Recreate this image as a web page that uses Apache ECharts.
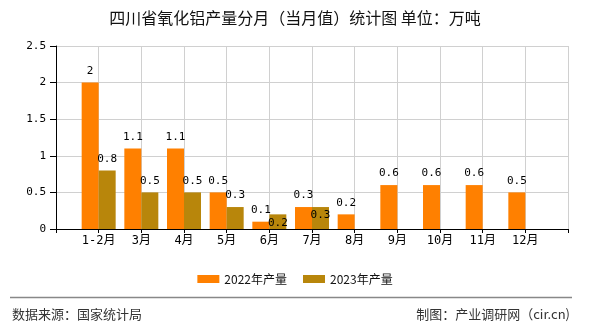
<!DOCTYPE html>
<html>
<head>
<meta charset="utf-8">
<script src="https://cdn.jsdelivr.net/npm/echarts@6/dist/echarts.min.js"></script>
<style>html,body{margin:0;padding:0;background:#fff}#c{width:590px;height:330px}</style>
</head>
<body>
<div id="c"></div>
<script>
var titleText = '四川省氧化铝产量分月（当月值）统计图 单位：万吨';
var categories = ['', '1-2月', '3月', '4月', '5月', '6月', '7月', '8月', '9月', '10月', '11月', '12月', ''];
var values2022 = [null, 2, 1.1, 1.1, 0.5, 0.1, 0.3, 0.2, 0.6, 0.6, 0.6, 0.5, null];
var values2023 = [null, 0.8, 0.5, 0.5, 0.3, 0.2, 0.3, null, null, null, null, null, null];
var seriesNames = ['2022年产量', '2023年产量'];
var yTicks = [0, 0.5, 1, 1.5, 2, 2.5];
var sourceText = '数据来源：国家统计局';
var creditText = '制图：产业调研网（cir.cn)';
// indices whose label sits inside the bar top (as in the reference)
var insideLabelIdx2023 = [5, 6];

var mono = '"DejaVu Sans Mono", "Noto Sans CJK SC", monospace';
var cjk = '"Noto Sans CJK SC", sans-serif';

function build(vals, insideIdx) {
  return vals.map(function (v, i) {
    if (v === null) return null;
    if (insideIdx && insideIdx.indexOf(i) >= 0) {
      return { value: v, label: { position: 'insideTop', distance: 3 } };
    }
    return v;
  });
}

var chart = echarts.init(document.getElementById('c'));
chart.setOption({
  animation: false,
  backgroundColor: '#fff',
  title: {
    text: titleText, left: 'center', top: 5,
    textStyle: { fontFamily: cjk, fontSize: 16, fontWeight: 'normal', color: '#111' }
  },
  legend: {
    data: seriesNames, left: 'center', top: 268,
    itemWidth: 22, itemHeight: 8, itemGap: 16,
    icon: 'rect',
    textStyle: { fontFamily: cjk, fontSize: 12, color: '#111' }
  },
  grid: { left: 56, right: 22, top: 46, bottom: 101, containLabel: false },
  xAxis: {
    type: 'category', data: categories, boundaryGap: false,
    axisLine: { lineStyle: { color: '#000', width: 1 } },
    axisTick: { show: true, length: 4, interval: 0, lineStyle: { color: '#000' } },
    axisLabel: { interval: 0, margin: 6, color: '#000', fontFamily: mono, fontSize: 12 },
    splitLine: { show: true, interval: 0, lineStyle: { color: '#d0d0d0', width: 1 } }
  },
  yAxis: {
    type: 'value', min: yTicks[0], max: yTicks[yTicks.length - 1], interval: 0.5,
    axisLine: { show: true, lineStyle: { color: '#000', width: 1 } },
    axisTick: { show: true, length: 6, lineStyle: { color: '#000' } },
    axisLabel: { margin: 10, color: '#000', fontFamily: mono, fontSize: 11 },
    splitLine: { show: true, lineStyle: { color: '#d0d0d0', width: 1 } }
  },
  series: [
    {
      name: seriesNames[0], type: 'bar', data: build(values2022),
      barWidth: 17, barGap: '0%',
      itemStyle: { color: '#FF8000' },
      label: { show: true, position: 'top', distance: 6, color: '#000', fontFamily: mono, fontSize: 11 }
    },
    {
      name: seriesNames[1], type: 'bar', data: build(values2023, insideLabelIdx2023),
      barWidth: 17, barGap: '0%',
      itemStyle: { color: '#B8860B' },
      label: { show: true, position: 'top', distance: 6, color: '#000', fontFamily: mono, fontSize: 11 }
    }
  ],
  graphic: [
    { type: 'line', shape: { x1: 10, y1: 297.5, x2: 572, y2: 297.5 }, style: { stroke: '#888', lineWidth: 1.5 } },
    { type: 'text', left: 12, top: 308, style: { text: sourceText, font: '13px "Noto Sans CJK SC", sans-serif', fill: '#333' } },
    { type: 'text', right: 20, top: 308, style: { text: creditText, font: '13px "Noto Sans CJK SC", sans-serif', fill: '#333' } }
  ]
});
</script>
</body>
</html>
